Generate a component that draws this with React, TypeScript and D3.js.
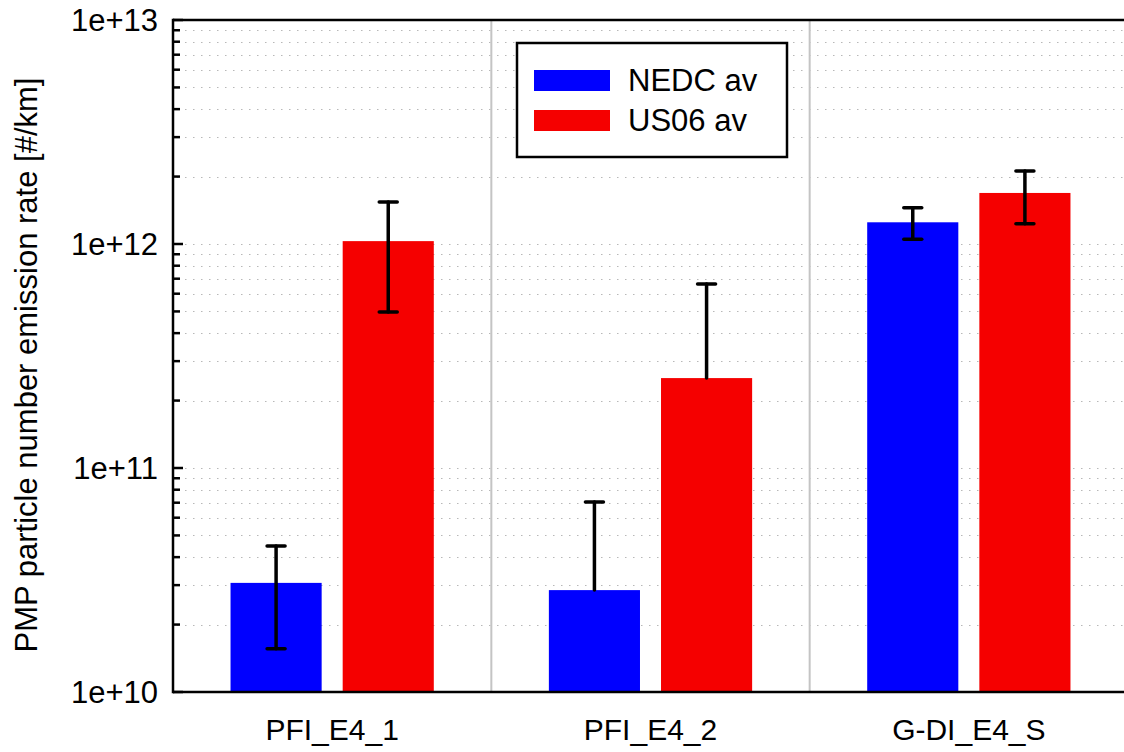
import React, { useEffect, useRef } from 'react';
import * as d3 from 'd3';

// categories and series
const categories = ['PFI_E4_1', 'PFI_E4_2', 'G-DI_E4_S'];
const seriesNames = ['NEDC av', 'US06 av'];
const seriesColors = ['#0000ff', '#f50000'];

// mean values
const nedcValues = [3.07e10, 2.85e10, 1.25e12];
const us06Values = [1.03e12, 2.52e11, 1.69e12];

// error bar ends (null = lower end not drawn)
const nedcUpper = [4.48e10, 7.05e10, 1.45e12];
const nedcLower = [1.56e10, null, 1.05e12];
const us06Upper = [1.54e12, 6.63e11, 2.12e12];
const us06Lower = [4.97e11, null, 1.23e12];

const yTickValues = [1e10, 1e11, 1e12, 1e13];
const yTickLabels = ['1e+10', '1e+11', '1e+12', '1e+13'];
const yTitle = 'PMP particle number emission rate [#/km]';

const W = 1124;
const H = 752;
const FONT = '"Liberation Sans", Arial, sans-serif';

const App = () => {
  const svgRef = useRef<SVGSVGElement>(null);

  useEffect(() => {
    const svg = d3.select(svgRef.current);
    svg.selectAll('*').remove();

    const left = 173, right = 1128, top = 20, bottom = 692;

    const y = d3.scaleLog().domain([1e10, 1e13]).range([bottom, top]);
    const x = d3.scaleBand().domain(categories).range([left, right]).padding(0);
    const xs = d3.scaleBand()
      .domain(seriesNames)
      .range([0, x.bandwidth()])
      .paddingInner(0.1875)
      .paddingOuter(0.513);

    const values = [nedcValues, us06Values];
    const uppers = [nedcUpper, us06Upper];
    const lowers = [nedcLower, us06Lower];

    // dotted grid at every log step
    const gridVals: number[] = [];
    for (let e = 10; e < 13; e++) {
      for (let m = 1; m < 10; m++) {
        const v = m * Math.pow(10, e);
        if (v > 1e10) gridVals.push(v);
      }
    }
    svg.append('g')
      .selectAll('line')
      .data(gridVals)
      .join('line')
      .attr('x1', left + 4)
      .attr('x2', W)
      .attr('y1', d => Math.round(y(d)) + 0.5)
      .attr('y2', d => Math.round(y(d)) + 0.5)
      .attr('stroke', '#b8b8b8')
      .attr('stroke-width', 1.2)
      .attr('stroke-dasharray', '1.5 6.5');

    // category separators
    svg.append('g')
      .selectAll('line')
      .data(categories.slice(1))
      .join('line')
      .attr('x1', d => x(d)!)
      .attr('x2', d => x(d)!)
      .attr('y1', top)
      .attr('y2', bottom)
      .attr('stroke', '#c4c4c4')
      .attr('stroke-width', 2);

    // bars
    seriesNames.forEach((s, si) => {
      svg.append('g')
        .selectAll('rect')
        .data(categories)
        .join('rect')
        .attr('x', d => x(d)! + xs(s)!)
        .attr('width', xs.bandwidth())
        .attr('y', (d, i) => y(values[si][i]))
        .attr('height', (d, i) => bottom - y(values[si][i]))
        .attr('fill', seriesColors[si]);
    });

    // error bars
    const capW = 18;
    seriesNames.forEach((s, si) => {
      const g = svg.append('g').attr('stroke', '#000').attr('stroke-width', 3.5).attr('stroke-linecap', 'round');
      categories.forEach((c, i) => {
        const cx = x(c)! + xs(s)! + xs.bandwidth() / 2;
        const up = uppers[si][i];
        const lo = lowers[si][i];
        const yTop = y(up);
        const yBot = lo == null ? y(values[si][i]) : y(lo);
        g.append('line').attr('x1', cx).attr('x2', cx).attr('y1', yTop).attr('y2', yBot);
        g.append('line').attr('x1', cx - capW / 2).attr('x2', cx + capW / 2).attr('y1', yTop).attr('y2', yTop);
        if (lo != null) {
          g.append('line').attr('x1', cx - capW / 2).attr('x2', cx + capW / 2).attr('y1', yBot).attr('y2', yBot);
        }
      });
    });

    // left axis with inward ticks
    const axisG = svg.append('g').attr('stroke', '#000');
    axisG.selectAll('line.tick')
      .data(gridVals.concat([1e10, 1e13]))
      .join('line')
      .attr('x1', left)
      .attr('x2', d => left + (yTickValues.includes(d) ? 10 : 7))
      .attr('y1', d => y(d))
      .attr('y2', d => y(d))
      .attr('stroke-width', 2.5);
    axisG.append('line')
      .attr('x1', left).attr('x2', left).attr('y1', top - 1.2).attr('y2', bottom + 1.2)
      .attr('stroke-width', 2.5);
    axisG.append('line')
      .attr('x1', left).attr('x2', W).attr('y1', top).attr('y2', top)
      .attr('stroke-width', 2.5);
    axisG.append('line')
      .attr('x1', left).attr('x2', W).attr('y1', bottom).attr('y2', bottom)
      .attr('stroke-width', 2.5);

    // y tick labels
    svg.append('g')
      .selectAll('text')
      .data(yTickValues)
      .join('text')
      .attr('x', 158)
      .attr('y', d => y(d) + 11)
      .attr('text-anchor', 'end')
      .attr('font-family', FONT)
      .attr('font-size', 31)
      .attr('fill', '#000')
      .text((d, i) => yTickLabels[i]);

    // category labels
    svg.append('g')
      .selectAll('text')
      .data(categories)
      .join('text')
      .attr('x', d => x(d)! + xs(seriesNames[0])! + (xs(seriesNames[1])! + xs.bandwidth() - xs(seriesNames[0])!) / 2)
      .attr('y', 740)
      .attr('text-anchor', 'middle')
      .attr('font-family', FONT)
      .attr('font-size', 30)
      .attr('fill', '#000')
      .text(d => d);

    // y title
    svg.append('text')
      .attr('transform', `translate(37,365) rotate(-90)`)
      .attr('text-anchor', 'middle')
      .attr('font-family', FONT)
      .attr('font-size', 31)
      .attr('fill', '#000')
      .text(yTitle);

    // legend
    const lg = svg.append('g');
    lg.append('rect')
      .attr('x', 517).attr('y', 43).attr('width', 270).attr('height', 114)
      .attr('fill', '#fff').attr('stroke', '#000').attr('stroke-width', 2.5);
    seriesNames.forEach((s, i) => {
      lg.append('rect')
        .attr('x', 534).attr('y', 70 + i * 40).attr('width', 76).attr('height', 21)
        .attr('fill', seriesColors[i]);
      lg.append('text')
        .attr('x', 628).attr('y', 91 + i * 40)
        .attr('font-family', FONT)
        .attr('font-size', 31)
        .attr('fill', '#000')
        .text(s);
    });
  }, []);

  return (
    <svg
      ref={svgRef}
      width={W}
      height={H}
      style={{ position: 'absolute', left: 0, top: 0, background: '#fff' }}
    />
  );
};

export default App;
